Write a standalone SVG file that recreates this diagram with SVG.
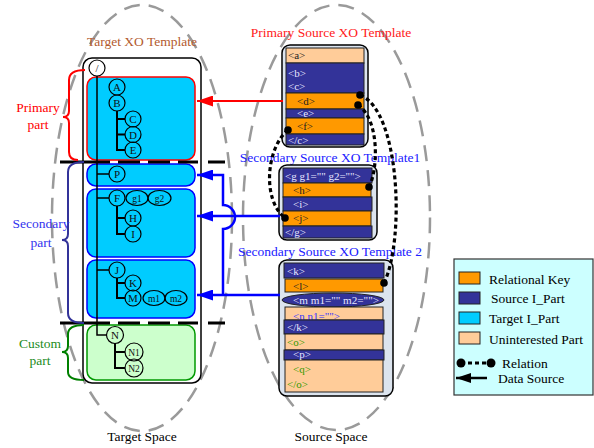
<svg xmlns="http://www.w3.org/2000/svg" width="594" height="448" viewBox="0 0 594 448" font-family="'Liberation Serif', 'Times New Roman', 'DejaVu Serif', serif">
<style>
  text { font-family: "Liberation Serif", "Times New Roman", "DejaVu Serif", serif; }
  .lbl { font-size: 13.5px; }
  .mid { text-anchor: middle; }
  .space { fill: none; stroke: #9a9a9a; stroke-width: 2.5; stroke-dasharray: 16 9; }
  .nd { stroke: #000; stroke-width: 1.2; fill: none; }
  .nt { font-size: 11px; text-anchor: middle; fill: #111; }
  .at { font-size: 9.5px; text-anchor: middle; fill: #111; }
  .tree { fill: none; stroke: #000; stroke-width: 2; }
  .row { stroke: #222; stroke-width: 1; }
  .navy { fill: #333399; }
  .key { fill: #FF9900; }
  .peach { fill: #FFCC99; }
  .rt { font-size: 11px; }
  .lt { fill: #E6E6FF; }
  .dk { fill: #222; }
  .gt { fill: #339900; }
  .bt { fill: #3333FF; }
  .bez { fill: #DCE4EE; stroke: #000; stroke-width: 1.5; }
  .rel { fill: none; stroke: #000; stroke-width: 3.2; stroke-dasharray: 4 3; }
  .blue { fill: none; stroke: #0000FF; stroke-width: 2.5; }
  .sep { stroke: #000; stroke-width: 3; stroke-dasharray: 50 8 22 8 22 8 20 10 17; }
  .brace { fill: none; stroke-width: 2; }
</style>
<defs>
  <marker id="ah-red" markerUnits="userSpaceOnUse" markerWidth="16" markerHeight="11" refX="16" refY="5.5" orient="auto">
    <path d="M0,0 L16,5.5 L0,11 z" fill="#FF0000"/>
  </marker>
  <marker id="ah-blue" markerUnits="userSpaceOnUse" markerWidth="16" markerHeight="11" refX="16" refY="5.5" orient="auto">
    <path d="M0,0 L16,5.5 L0,11 z" fill="#0000FF"/>
  </marker>
  <marker id="ah-black" markerUnits="userSpaceOnUse" markerWidth="15" markerHeight="10" refX="15" refY="5" orient="auto">
    <path d="M0,0 L15,5 L0,10 z" fill="#000"/>
  </marker>
</defs>

<!-- spaces -->
<g id="target-space">
  <ellipse class="space" cx="142" cy="218" rx="90" ry="213"/>
  <text class="lbl mid" x="142" y="441">Target Space</text>
</g>
<g id="source-space">
  <ellipse class="space" cx="336.5" cy="217.5" rx="93.5" ry="212.5"/>
  <text class="lbl mid" x="331" y="441">Source Space</text>
</g>

<!-- target template -->
<g id="target-template">
  <text class="lbl mid" x="142" y="46" fill="#B35A2D">Target XO Template</text>
  <rect x="83" y="58" width="118" height="325" rx="9" fill="#fff" stroke="#000" stroke-width="1.5"/>
  <rect id="primary-box" x="87" y="77" width="108" height="83" rx="9" fill="#00CCFF" stroke="#FF0000" stroke-width="1.5"/>
  <rect id="p-box" x="87" y="164" width="108" height="22" rx="9" fill="#00CCFF" stroke="#0000FF" stroke-width="1.5"/>
  <rect id="f-box" x="87" y="189" width="108" height="68" rx="9" fill="#00CCFF" stroke="#0000FF" stroke-width="1.5"/>
  <rect id="j-box" x="87" y="260" width="108" height="58" rx="9" fill="#00CCFF" stroke="#0000FF" stroke-width="1.5"/>
  <rect id="custom-box" x="87" y="325" width="108" height="55" rx="9" fill="#CCFFCC" stroke="#009900" stroke-width="1.5"/>

  <!-- tree edges -->
  <path d="M97,76 V335 H107 M97,174 H109 M97,198 H109 M97,270 H109" fill="none" stroke="#000" stroke-width="1.5"/>
  <path class="tree" d="M117,111 V150 H125 M117,119 H125 M117,134.5 H125"/>
  <path class="tree" d="M117,206 V234 H125 M117,218 H125"/>
  <path class="tree" d="M117,278 V298 H125 M117,283 H125"/>
  <path class="tree" d="M115,343 V368 H125 M115,352 H125"/>

  <!-- separators -->
  <line class="sep" x1="60" y1="162" x2="225" y2="162"/>
  <line class="sep" x1="60" y1="323" x2="225" y2="323"/>
</g>

<g id="node-root"><circle cx="97" cy="68" r="8" fill="#fff" stroke="#000" stroke-width="1.2"/><text class="nt" x="97" y="72">/</text></g>
<g id="node-A"><circle class="nd" cx="117" cy="87" r="8"/><text class="nt" x="117" y="91">A</text></g>
<g id="node-B"><circle class="nd" cx="117" cy="103" r="8"/><text class="nt" x="117" y="107">B</text></g>
<g id="node-C"><circle class="nd" cx="133" cy="119" r="8"/><text class="nt" x="133" y="123">C</text></g>
<g id="node-D"><circle class="nd" cx="133" cy="134.5" r="8"/><text class="nt" x="133" y="138.5">D</text></g>
<g id="node-E"><circle class="nd" cx="133" cy="150" r="8"/><text class="nt" x="133" y="154">E</text></g>
<g id="node-P"><circle class="nd" cx="117" cy="174" r="8"/><text class="nt" x="117" y="178">P</text></g>
<g id="node-F"><circle class="nd" cx="117" cy="198" r="8"/><text class="nt" x="117" y="202">F</text>
  <ellipse class="nd" cx="137" cy="198" rx="11" ry="7.5"/><text class="at" x="137" y="201.5">g1</text>
  <ellipse class="nd" cx="159.5" cy="198" rx="11.5" ry="7.5"/><text class="at" x="159.5" y="201.5">g2</text></g>
<g id="node-H"><circle class="nd" cx="133" cy="218" r="8"/><text class="nt" x="133" y="222">H</text></g>
<g id="node-I"><circle class="nd" cx="133" cy="234" r="8"/><text class="nt" x="133" y="238">I</text></g>
<g id="node-J"><circle class="nd" cx="117" cy="270" r="8"/><text class="nt" x="117" y="274">J</text></g>
<g id="node-K"><circle class="nd" cx="133" cy="283" r="8"/><text class="nt" x="133" y="287">K</text></g>
<g id="node-M"><circle class="nd" cx="133" cy="298" r="8"/><text class="nt" x="133" y="302">M</text>
  <ellipse class="nd" cx="154" cy="298" rx="11" ry="7.5"/><text class="at" x="154" y="301.5">m1</text>
  <ellipse class="nd" cx="176" cy="298" rx="11" ry="7.5"/><text class="at" x="176" y="301.5">m2</text></g>
<g id="node-N"><circle class="nd" cx="115" cy="335" r="8.5"/><text class="nt" x="115" y="339">N</text></g>
<g id="node-N1"><circle class="nd" cx="134" cy="352" r="9"/><text class="at" x="134" y="355.5">N1</text></g>
<g id="node-N2"><circle class="nd" cx="134" cy="368" r="9"/><text class="at" x="134" y="371.5">N2</text></g>

<!-- part braces and labels -->
<g id="primary-part">
  <path class="brace" stroke="#FF0000" d="M85,70 Q69,70 69,80 L69,111 Q69,117 63,117 Q69,117 69,123 L69,152 Q69,160 78,160"/>
  <text class="lbl mid" x="38" y="112" fill="#FF0000">Primary</text>
  <text class="lbl mid" x="38" y="129" fill="#FF0000">part</text>
</g>
<g id="secondary-part">
  <path class="brace" stroke="#333399" d="M84,162 Q68,162 68,172 L68,234 Q68,240 62,240 Q68,240 68,246 L68,313 Q68,323 84,323"/>
  <text class="lbl mid" x="41" y="228" fill="#3333EE">Secondary</text>
  <text class="lbl mid" x="41" y="247" fill="#3333EE">part</text>
</g>
<g id="custom-part">
  <path class="brace" stroke="#008000" d="M84,325 Q68,325 68,334 L68,346 Q68,352 62,352 Q68,352 68,358 L68,372 Q68,380 84,380"/>
  <text class="lbl mid" x="40" y="348" fill="#228B22">Custom</text>
  <text class="lbl mid" x="40" y="365" fill="#228B22">part</text>
</g>

<!-- primary source template -->
<g id="primary-source">
  <text class="lbl mid" x="331" y="37" fill="#FF2020">Primary Source XO Template</text>
  <rect class="bez" x="282" y="45" width="86" height="102" rx="8"/>
  <rect class="row peach" x="286" y="48" width="78" height="15"/>
  <rect class="row navy" x="286" y="63" width="78" height="30"/>
  <rect class="row key" x="286" y="93" width="78" height="16"/>
  <rect class="row navy" x="286" y="109" width="78" height="9"/>
  <rect class="row key" x="286" y="118" width="78" height="16"/>
  <rect class="row navy" x="286" y="134" width="78" height="11"/>
  <g class="rt">
    <text class="dk" x="288" y="59">&lt;a&gt;</text>
    <text class="lt" x="288" y="77">&lt;b&gt;</text>
    <text class="lt" x="288" y="90">&lt;c&gt;</text>
    <text class="dk" x="297" y="105">&lt;d&gt;</text>
    <text class="lt" x="297" y="117">&lt;e&gt;</text>
    <text class="dk" x="297" y="130">&lt;f&gt;</text>
    <text class="lt" x="288" y="144">&lt;/c&gt;</text>
  </g>
</g>

<!-- secondary source template 1 -->
<g id="secondary-source-1">
  <text class="lbl mid" x="330" y="162" fill="#2020FF">Secondary Source XO Template1</text>
  <rect class="bez" x="279" y="165" width="98" height="75" rx="8"/>
  <rect class="row navy" x="283" y="168" width="89" height="15"/>
  <rect class="row key" x="283" y="183" width="88" height="14"/>
  <rect class="row navy" x="283" y="197" width="89" height="14"/>
  <rect class="row key" x="283" y="211" width="88" height="15"/>
  <rect class="row navy" x="283" y="226" width="89" height="12"/>
  <g class="rt">
    <text class="lt" x="285" y="180">&lt;g g1="" g2=""&gt;</text>
    <text class="dk" x="293" y="194">&lt;h&gt;</text>
    <text class="lt" x="293" y="208">&lt;i&gt;</text>
    <text class="dk" x="293" y="222">&lt;j&gt;</text>
    <text class="lt" x="285" y="236">&lt;/g&gt;</text>
  </g>
</g>

<!-- secondary source template 2 -->
<g id="secondary-source-2">
  <text class="lbl mid" x="330" y="256" fill="#2020FF">Secondary Source XO Template 2</text>
  <rect class="bez" x="279" y="260" width="114" height="136" rx="8"/>
  <rect class="row navy" x="284" y="263" width="100" height="15"/>
  <rect class="row key" x="285" y="279" width="98" height="13"/>
  <text class="rt dk" x="293" y="290">&lt;l&gt;</text>
  <ellipse class="row navy" cx="333" cy="300" rx="51" ry="7"/>
  <rect class="row peach" x="285" y="307" width="98" height="13"/>
  <text class="rt bt" x="293" y="320">&lt;n n1=""&gt;</text>
  <rect class="row navy" x="284" y="320" width="100" height="14"/>
  <rect class="row peach" x="285" y="334" width="98" height="16"/>
  <rect class="row navy" x="284" y="350" width="100" height="10"/>
  <rect class="row peach" x="285" y="360" width="98" height="32"/>
  <g class="rt">
    <text class="lt" x="287" y="275">&lt;k&gt;</text>
    <text class="lt" x="293" y="304" textLength="86" lengthAdjust="spacingAndGlyphs">&lt;m m1="" m2=""&gt;</text>
    <text class="lt" x="287" y="331">&lt;/k&gt;</text>
    <text class="gt" x="287" y="346">&lt;o&gt;</text>
    <text class="lt" x="293" y="358">&lt;p&gt;</text>
    <text class="gt" x="293" y="373">&lt;q&gt;</text>
    <text class="gt" x="287" y="388">&lt;/o&gt;</text>
  </g>
</g>

<!-- connectors -->
<g id="connectors">
  <!-- data sources -->
  <line x1="283" y1="101" x2="197" y2="101" stroke="#FF0000" stroke-width="2" marker-end="url(#ah-red)"/>
  <path class="blue" d="M280,216 H197" marker-end="url(#ah-blue)"/>
  <path class="blue" d="M280,295 H197" marker-end="url(#ah-blue)"/>
  <path class="blue" d="M223,295 V229 A12,12 0 0 0 223,205 V175 H197" marker-end="url(#ah-blue)"/>
  <!-- relations -->
  <path class="rel" d="M288,130 C266,148 262,200 285,218"/>
  <path class="rel" d="M358,105 C380,120 378,170 369,187"/>
  <path class="rel" d="M360,95 C400,110 405,240 384,283"/>
  <g fill="#000">
    <circle cx="288" cy="130" r="3.8"/>
    <circle cx="285" cy="218" r="3.8"/>
    <circle cx="358" cy="105" r="3.8"/>
    <circle cx="369" cy="187" r="3.8"/>
    <circle cx="360" cy="95" r="3.8"/>
    <circle cx="384" cy="283" r="3.8"/>
  </g>
</g>

<!-- legend -->
<g id="legend">
  <rect x="454" y="259" width="139" height="136" fill="#CCFFFF" stroke="#333" stroke-width="1.2"/>
  <rect class="row key" x="459" y="272" width="21" height="12" stroke-width="1.5"/>
  <rect class="row navy" x="459" y="292" width="21" height="12" stroke-width="1.5"/>
  <rect class="row" x="459" y="312" width="21" height="12" fill="#00CCFF" stroke-width="1.5"/>
  <rect class="row peach" x="459" y="332" width="21" height="12" stroke-width="1.5"/>
  <text class="lbl" x="489" y="284">Relational Key</text>
  <text class="lbl" x="491" y="303">Source I_Part</text>
  <text class="lbl" x="489" y="323">Target I_Part</text>
  <text class="lbl" x="489" y="344">Uninterested Part</text>
  <line class="rel" x1="461" y1="363" x2="491" y2="363"/>
  <circle cx="461" cy="363" r="4.5"/>
  <circle cx="491" cy="363" r="4.5"/>
  <text class="lbl" x="502" y="368">Relation</text>
  <line x1="487" y1="378" x2="456" y2="378" stroke="#000" stroke-width="2.5" marker-end="url(#ah-black)"/>
  <text class="lbl" x="498" y="383">Data Source</text>
</g>
</svg>
